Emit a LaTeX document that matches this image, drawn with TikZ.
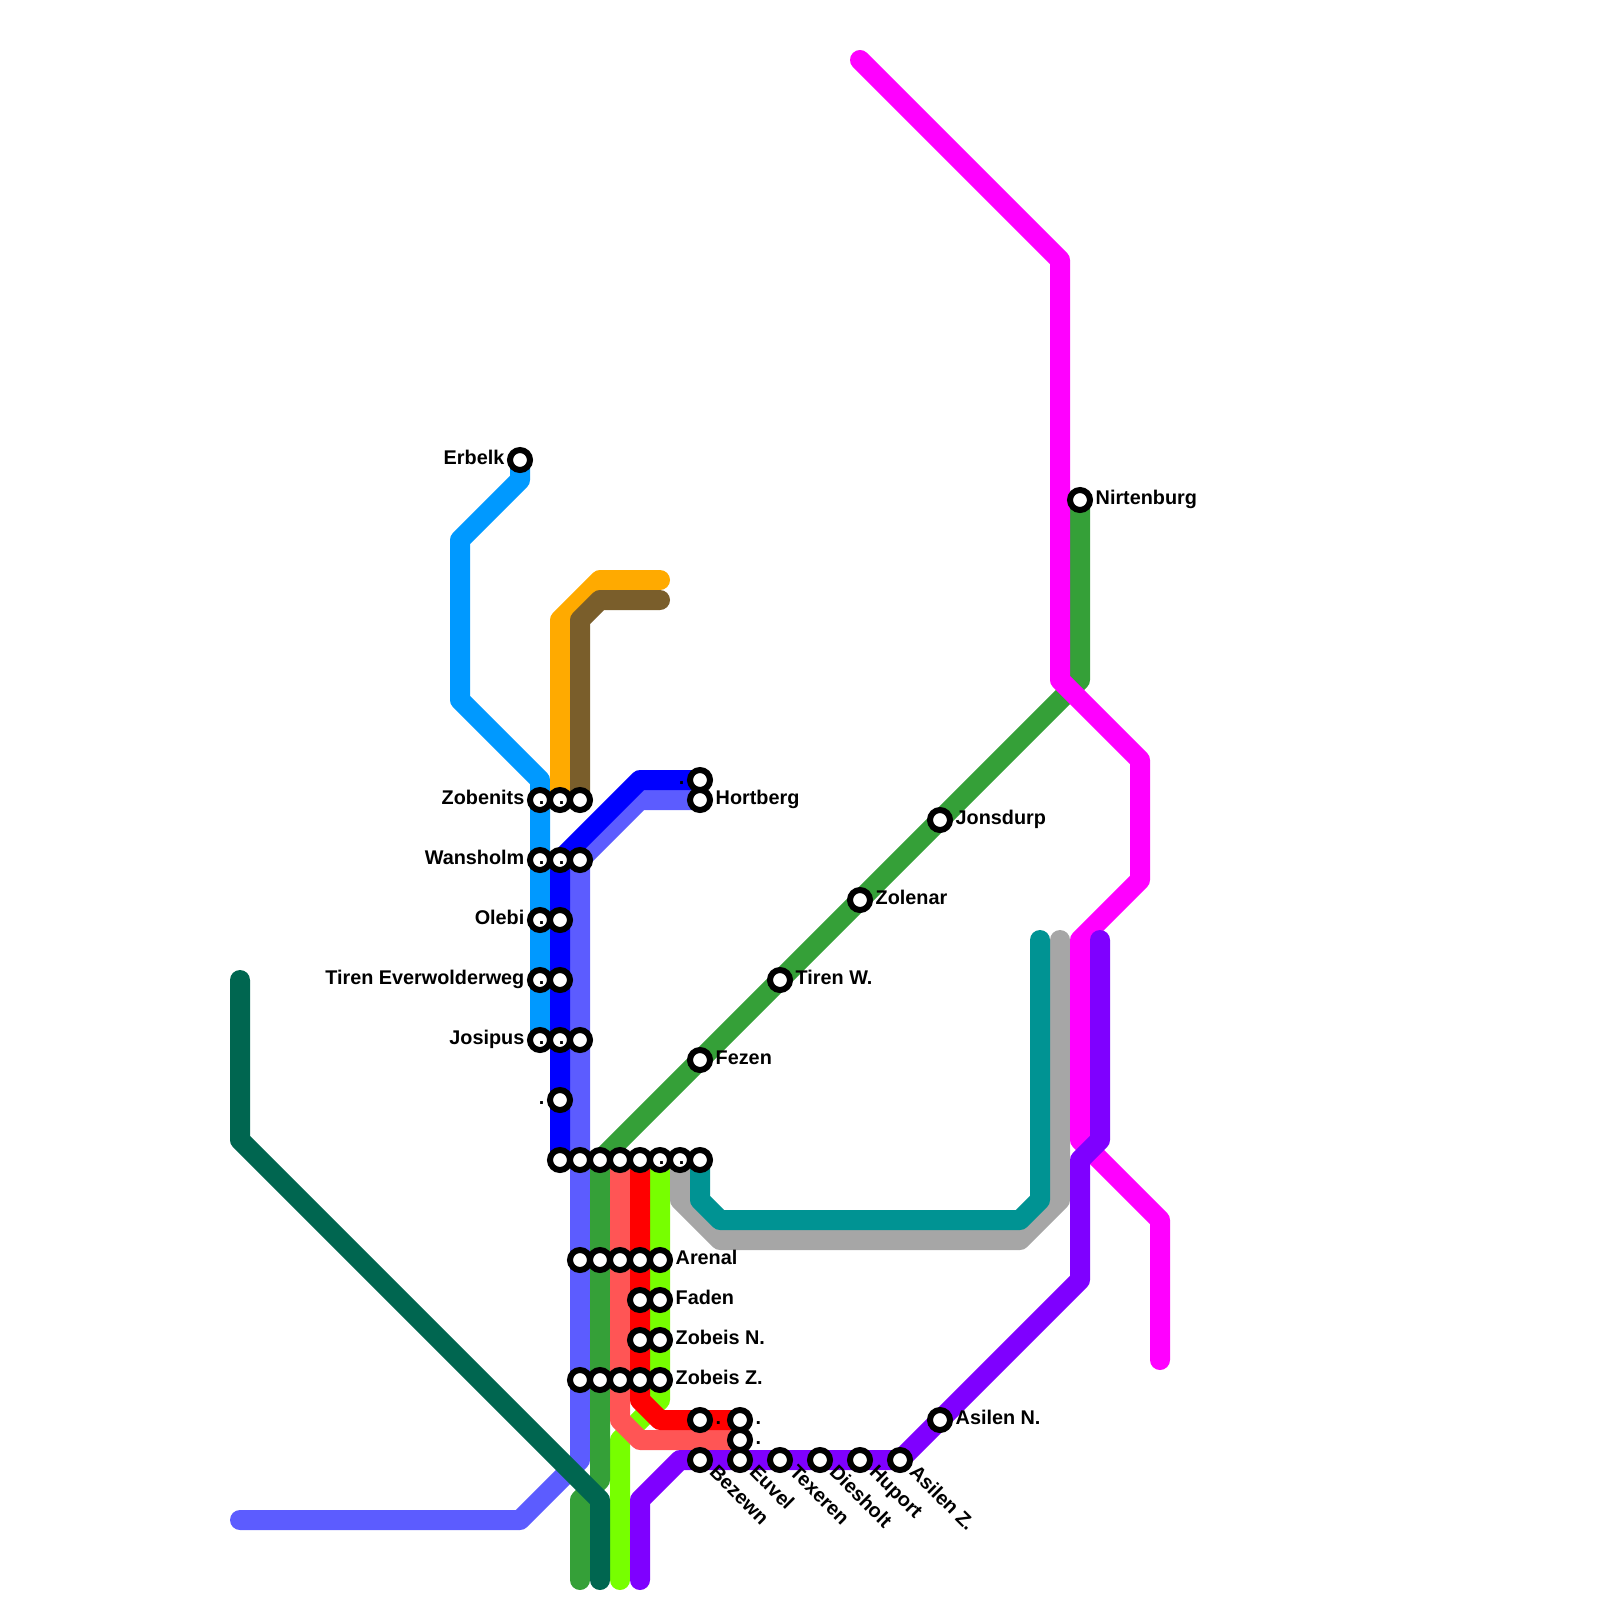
\documentclass[tikz,border=0pt]{standalone}
\usepackage{fontspec}
\setmainfont{Liberation Sans}
\usepackage{tikz}
\usetikzlibrary{positioning}
\definecolor{skyline}{HTML}{0099FF}
\definecolor{orangeline}{HTML}{FFAA00}
\definecolor{brownline}{HTML}{7A5E2B}
\definecolor{periline}{HTML}{5C5CFF}
\definecolor{blueline}{HTML}{0000FF}
\definecolor{greenline}{HTML}{35A038}
\definecolor{pineline}{HTML}{006650}
\definecolor{salmonline}{HTML}{FF5555}
\definecolor{redline}{HTML}{FF0000}
\definecolor{limeline}{HTML}{77FF00}
\definecolor{tealline}{HTML}{009393}
\definecolor{greyline}{HTML}{A6A6A6}
\definecolor{purpleline}{HTML}{7F00FF}
\definecolor{pinkline}{HTML}{FF00FF}

\begin{document}
\begin{tikzpicture}[
x=0.5cm,y=-0.5cm,
metro/.style={
  line width=0.5cm,
  line cap=round,
  line join=round},
mystop/.style={
  draw=black,
  circle,
  fill=white,
  line width=0.15cm,
  inner sep=0pt,
  outer sep=0pt,
  minimum size=0.5cm},
lbl/.style={
  inner sep=0pt,
  text height=1.4ex,
  text depth=0pt,
  font=\fontsize{14.1}{16}\selectfont\bfseries,
  yshift=0.3pt},
slant/.style={lbl,anchor=west,rotate=-45}
]
\useasboundingbox (0,0) rectangle (80,80);
% stops
\foreach \Nodo/\x/\y in {
  Erbelk/26/23,Zobenits/27/40,ZobenitsB/28/40,ZobenitsC/29/40,
  Wansholm/27/43,WansholmB/28/43,WansholmC/29/43,
  Olebi/27/46,OlebiB/28/46,Tiren/27/49,TirenB/28/49,
  Josipus/27/52,JosipusB/28/52,JosipusC/29/52,Lone/28/55,
  Ha/28/58,Hb/29/58,Hc/30/58,Hd/31/58,He/32/58,Hf/33/58,Hg/34/58,Hh/35/58,
  Ab/29/63,Ac/30/63,Ad/31/63,Ae/32/63,Arenal/33/63,
  Fa/32/65,Faden/33/65,Za/32/67,ZobeisN/33/67,
  Zb/29/69,Zc/30/69,Zd/31/69,Ze/32/69,ZobeisZ/33/69,
  Ra/35/71,Rb/37/71,Sb/37/72,
  Bezewn/35/73,Euvel/37/73,Texeren/39/73,Diesholt/41/73,Huport/43/73,AsilenZ/45/73,
  Topper/35/39,Hortberg/35/40,Nirtenburg/54/25,Jonsdurp/47/41,Zolenar/43/45,
  TirenW/39/49,Fezen/35/53,AsilenN/47/71}
  \coordinate (\Nodo) at (\x,\y);
% bends and free ends
\foreach \x/\y in {
  26/24,23/27,23/35,27/39,28/31,30/29,33/29,29/31,30/30,33/30,
  32/40,29/73,26/76,12/76,32/39,33/70,31/72,31/79,54/34,30/74,29/75,29/79,
  12/49,12/57,30/75,30/79,31/71,32/72,32/70,33/71,
  35/60,36/61,51/61,52/60,52/47,34/60,36/62,51/62,53/60,53/47,
  43/3,53/13,53/34,57/38,57/44,54/47,54/57,58/61,58/68,
  32/79,32/75,34/73,54/64,54/58,55/57,55/47}
  \coordinate (b\x-\y) at (\x,\y);

\draw[metro,skyline] (Erbelk) -- (b26-24) -- (b23-27) -- (b23-35) -- (b27-39) -- (Josipus);
\draw[metro,orangeline] (ZobenitsB) -- (b28-31) -- (b30-29) -- (b33-29);
\draw[metro,brownline] (ZobenitsC) -- (b29-31) -- (b30-30) -- (b33-30);
\draw[metro,periline] (Hortberg) -- (b32-40) -- (WansholmC) -- (b29-73) -- (b26-76) -- (b12-76);
\draw[metro,blueline] (Topper) -- (b32-39) -- (WansholmB) -- (Ha);
\draw[metro,limeline] (Hf) -- (b33-70) -- (b31-72) -- (b31-79);
\draw[metro,greenline] (Nirtenburg) -- (b54-34) -- (Hc) -- (b30-74) -- (b29-75) -- (b29-79);
\draw[metro,pineline] (b12-49) -- (b12-57) -- (b30-75) -- (b30-79);
\draw[metro,salmonline] (Hd) -- (b31-71) -- (b32-72) -- (Sb);
\draw[metro,redline] (He) -- (b32-70) -- (b33-71) -- (Rb);
\draw[metro,greyline] (Hg) -- (b34-60) -- (b36-62) -- (b51-62) -- (b53-60) -- (b53-47);
\draw[metro,tealline] (Hh) -- (b35-60) -- (b36-61) -- (b51-61) -- (b52-60) -- (b52-47);
\draw[metro,pinkline] (b43-3) -- (b53-13) -- (b53-34) -- (b57-38) -- (b57-44) -- (b54-47) -- (b54-57) -- (b58-61) -- (b58-68);
\draw[metro,purpleline] (b32-79) -- (b32-75) -- (b34-73) -- (AsilenZ) -- (b54-64) -- (b54-58) -- (b55-57) -- (b55-47);

\foreach \Nodo in {
  Erbelk,Zobenits,ZobenitsB,ZobenitsC,Wansholm,WansholmB,WansholmC,
  Olebi,OlebiB,Tiren,TirenB,Josipus,JosipusB,JosipusC,Lone,
  Ha,Hb,Hc,Hd,He,Hf,Hg,Hh,Ab,Ac,Ad,Ae,Arenal,Fa,Faden,Za,ZobeisN,
  Zb,Zc,Zd,Ze,ZobeisZ,Ra,Rb,Sb,Bezewn,Euvel,Texeren,Diesholt,Huport,AsilenZ,
  Topper,Hortberg,Nirtenburg,Jonsdurp,Zolenar,TirenW,Fezen,AsilenN}
  \node[mystop] (s\Nodo) at (\Nodo) {};

\foreach \Nodo/\Txt in {Erbelk/Erbelk,Zobenits/Zobenits,Wansholm/Wansholm,Olebi/Olebi,
  Tiren/Tiren Everwolderweg,Josipus/Josipus}
  \node[lbl,left=0.385cm of \Nodo] (l\Nodo) {\Txt};
\foreach \Nodo/\Txt in {Hortberg/Hortberg,Nirtenburg/Nirtenburg,Jonsdurp/Jonsdurp,Zolenar/Zolenar,
  TirenW/Tiren W.,Fezen/Fezen,Arenal/Arenal,Faden/Faden,ZobeisN/Zobeis N.,ZobeisZ/Zobeis Z.,
  AsilenN/Asilen N.}
  \node[lbl,right=0.385cm of \Nodo] (l\Nodo) {\Txt};
\foreach \Nodo/\Txt in {Bezewn/Bezewn,Euvel/Euvel,Texeren/Texeren,Diesholt/Diesholt,
  Huport/Huport,AsilenZ/Asilen Z.}
  \node[slant] (l\Nodo) at ([shift={(0.6,0.5)}]\Nodo) {\Txt};
% the dots
\foreach \Nodo in {ZobenitsB,ZobenitsC,WansholmB,WansholmC,OlebiB,TirenB,JosipusB,JosipusC,Lone,Hg,Hh,Topper}
  \node[lbl,left=0.385cm of \Nodo] (d\Nodo) {.};
\foreach \Nodo in {Ra,Rb,Sb}
  \node[lbl,right=0.385cm of \Nodo] (d\Nodo) {.};
\end{tikzpicture}
\end{document}
